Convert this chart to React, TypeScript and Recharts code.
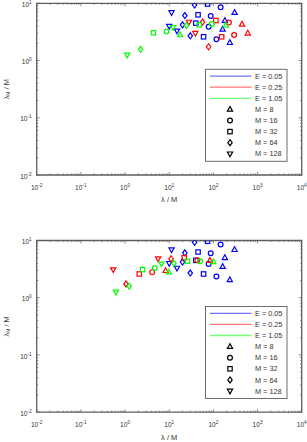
import React from 'react';
import { ScatterChart, Scatter, XAxis, YAxis, ReferenceArea } from 'recharts';

type Pt = [number, number];

const xMajor = [0.01, 0.1, 1, 10, 100, 1000, 10000];
const xExp = ['-2', '-1', '0', '1', '2', '3', '4'];
const yMajor = [0.01, 0.1, 1, 10];
const yExp = ['-2', '-1', '0', '1'];

const eLabels = ['E = 0.05', 'E = 0.25', 'E = 1.05'];
const eColors = ['#0000ff', '#ff0000', '#00ff00'];
const mLabels = ['M = 8', 'M = 16', 'M = 32', 'M = 64', 'M = 128'];
const mShapes = ['up', 'circle', 'square', 'diamond', 'down'];

// E = 0.05 (same in both panels)
const blue8: Pt[] = [[302, 6.9], [182, 5.0], [162, 3.5], [236, 2.05]];
const blue16: Pt[] = [[146, 8.5], [87, 6.0], [78, 3.9], [117, 2.35]];
const blue32: Pt[] = [[74, 9.7], [45, 6.3], [40, 4.5], [60, 2.6]];
const blue64: Pt[] = [[37.6, 9.3], [22.6, 6.1], [20, 4.2], [30, 2.7]];
const blue128: Pt[] = [[11.3, 6.9], [10, 4.0], [15, 3.3]];

// top panel, E = 0.25 / 1.05
const redTop8: Pt[] = [[445, 4.3], [600, 3.0]];
const redTop16: Pt[] = [[225, 4.6], [295, 2.8]];
const redTop32: Pt[] = [[114, 5.0], [154, 2.6]];
const redTop64: Pt[] = [[57, 4.7], [78, 1.74]];
const redTop128: Pt[] = [[28, 4.7], [39, 3.0]];
const greenTop8: Pt[] = [[17.7, 2.8], [191, 4.1]];
const greenTop16: Pt[] = [[8.7, 3.2], [92, 4.35]];
const greenTop32: Pt[] = [[4.4, 3.06], [48, 4.2]];
const greenTop64: Pt[] = [[2.25, 1.57], [24.6, 4.1]];
const greenTop128: Pt[] = [[1.12, 1.25], [12.3, 3.8]];

// bottom panel, E = 0.25 / 1.05
const redBot8: Pt[] = [[8.3, 2.97], [83, 4.47]];
const redBot16: Pt[] = [[4.1, 2.8], [43.6, 4.5]];
const redBot32: Pt[] = [[2.1, 2.6], [21.8, 5.0]];
const redBot64: Pt[] = [[1.05, 1.74], [11, 4.8]];
const redBot128: Pt[] = [[0.54, 3.1], [5.6, 4.8]];
const greenBot8: Pt[] = [[9.8, 2.8], [100, 4.25]];
const greenBot16: Pt[] = [[4.7, 3.3], [50, 4.35]];
const greenBot32: Pt[] = [[2.5, 3.1], [26, 4.35]];
const greenBot64: Pt[] = [[1.24, 1.59], [12.8, 4.0]];
const greenBot128: Pt[] = [[0.62, 1.26], [6.7, 3.9]];

const blueSet = [blue8, blue16, blue32, blue64, blue128];
const topSets = [blueSet, [redTop8, redTop16, redTop32, redTop64, redTop128], [greenTop8, greenTop16, greenTop32, greenTop64, greenTop128]];
const botSets = [blueSet, [redBot8, redBot16, redBot32, redBot64, redBot128], [greenBot8, greenBot16, greenBot32, greenBot64, greenBot128]];

const minorOf = (majors: number[]) =>
  majors.slice(0, -1).flatMap((d) => [2, 3, 4, 5, 6, 7, 8, 9].map((k) => +(d * k).toPrecision(3)));

const xTicks = [...xMajor, ...minorOf(xMajor)];
const yTicks = [...yMajor, ...minorOf(yMajor)];

const FONT = '"Liberation Sans", Arial, Helvetica, sans-serif';
const AX = '#5e5e5e';
const TXT = '#333';

const W = 307;
const H = 221;
const PL = 36.7;
const PR = 301.7;
const PW = PR - PL;
const PH = 171.7;

const Marker = ({ cx, cy, kind, color, sw = 1.2 }: any) => {
  const p = { fill: 'none', stroke: color, strokeWidth: sw };
  switch (kind) {
    case 'circle':
      return <circle cx={cx} cy={cy} r={2.4} {...p} />;
    case 'square':
      return <rect x={cx - 2.2} y={cy - 2.2} width={4.4} height={4.4} {...p} />;
    case 'diamond':
      return <path d={`M${cx},${cy - 3}L${cx + 2.2},${cy}L${cx},${cy + 3}L${cx - 2.2},${cy}Z`} {...p} />;
    case 'up':
      return <path d={`M${cx},${cy - 2.9}L${cx + 2.6},${cy + 1.8}L${cx - 2.6},${cy + 1.8}Z`} {...p} />;
    default:
      return <path d={`M${cx},${cy + 2.9}L${cx + 2.6},${cy - 1.8}L${cx - 2.6},${cy - 1.8}Z`} {...p} />;
  }
};

const XTick = ({ x, y, payload }: any) => {
  const i = xMajor.indexOf(payload.value);
  const len = i >= 0 ? 3 : 1.6;
  return (
    <g>
      <line x1={x} x2={x} y1={y} y2={y - len} stroke={AX} strokeWidth={0.7} />
      <line x1={x} x2={x} y1={y - PH} y2={y - PH + len} stroke={AX} strokeWidth={0.7} />
      {i >= 0 && (
        <text x={x} y={y + 14.5} textAnchor="middle" fontSize={6.6} fill={TXT} fontFamily={FONT}>
          10<tspan dy={-3} fontSize={4.7}>{xExp[i]}</tspan>
        </text>
      )}
    </g>
  );
};

const YTick = ({ x, y, payload }: any) => {
  const i = yMajor.indexOf(payload.value);
  const len = i >= 0 ? 3 : 1.6;
  return (
    <g>
      <line x1={x} x2={x + len} y1={y} y2={y} stroke={AX} strokeWidth={0.7} />
      <line x1={x + PW} x2={x + PW - len} y1={y} y2={y} stroke={AX} strokeWidth={0.7} />
      {i >= 0 && (
        <text x={x - 5} y={y + 3.6} textAnchor="end" fontSize={6.6} fill={TXT} fontFamily={FONT}>
          10<tspan dy={-3} fontSize={4.7}>{yExp[i]}</tspan>
        </text>
      )}
    </g>
  );
};

const LegendBox = ({ top }: { top: number }) => {
  const left = 205.5;
  const w = 81.5;
  const h = 92;
  const rows = [...eLabels, ...mLabels];
  return (
    <svg width={W} height={H} style={{ position: 'absolute', left: 0, top: 0, pointerEvents: 'none' }}>
      <rect x={left} y={top} width={w} height={h} fill="#fff" stroke={AX} strokeWidth={0.9} />
      {rows.map((r, k) => {
        const cy = top + 6.8 + k * 11.1;
        return (
          <g key={r}>
            {k < 3 ? (
              <line x1={left + 4.5} x2={left + 46} y1={cy} y2={cy} stroke={eColors[k]} strokeOpacity={0.55} strokeWidth={1.3} />
            ) : (
              <Marker cx={left + 24.5} cy={cy} kind={mShapes[k - 3]} color="#000" sw={1.2} />
            )}
            <text x={left + 49.5} y={cy + 2.6} fontSize={7.3} fill={TXT} fontFamily={FONT}>
              {r}
            </text>
          </g>
        );
      })}
    </svg>
  );
};

const Panel = ({ sets, top }: { sets: Pt[][][]; top: number }) => {
  const bottom = top + PH;
  return (
    <div style={{ position: 'relative', width: W, height: H }}>
      <ScatterChart width={W} height={H} margin={{ top, right: W - PR, left: 0, bottom: 0 }}>
        <XAxis
          type="number" dataKey="x" scale="log" domain={[0.01, 10000]} allowDataOverflow
          ticks={xTicks} interval={0} tick={<XTick />} tickSize={0} tickMargin={0}
          axisLine={false} tickLine={false} height={H - bottom}
          label={{
            content: () => (
              <text x={PL + PW / 2} y={bottom + 27.3} textAnchor="middle" fontSize={7.5} fill={TXT} fontFamily={FONT}>
                λ / M
              </text>
            ),
          }}
        />
        <YAxis
          type="number" dataKey="y" scale="log" domain={[0.01, 10]} allowDataOverflow
          ticks={yTicks} interval={0} tick={<YTick />} tickSize={0} tickMargin={0}
          axisLine={false} tickLine={false} width={PL}
          label={{
            content: () => (
              <text
                x={8.6} y={top + PH / 2} textAnchor="middle" fontSize={7.5} fill={TXT} fontFamily={FONT}
                transform={`rotate(-90 8.6 ${top + PH / 2})`}
              >
                λ<tspan dy={1.8} fontSize={5}>M</tspan>
                <tspan dy={-1.8}> / M</tspan>
              </text>
            ),
          }}
        />
        {sets.map((byM, e) =>
          byM.map((pts, m) => (
            <Scatter
              key={`${e}-${m}`}
              data={pts.map(([x, y]) => ({ x, y }))}
              isAnimationActive={false}
              shape={(s: any) => <Marker cx={s.cx} cy={s.cy} kind={mShapes[m]} color={eColors[e]} />}
            />
          ))
        )}
        <ReferenceArea x1={0.01} x2={10000} y1={0.01} y2={10} fill="none" stroke={AX} strokeWidth={1.3} ifOverflow="visible" />
      </ScatterChart>
      <LegendBox top={top + 66} />
    </div>
  );
}

export default function App() {
  return (
    <div style={{ position: 'absolute', left: 0, top: 0, width: W, height: 442, background: '#fff' }}>
      <Panel sets={topSets} top={3.3} />
      <Panel sets={botSets} top={19.5} />
    </div>
  );
}
